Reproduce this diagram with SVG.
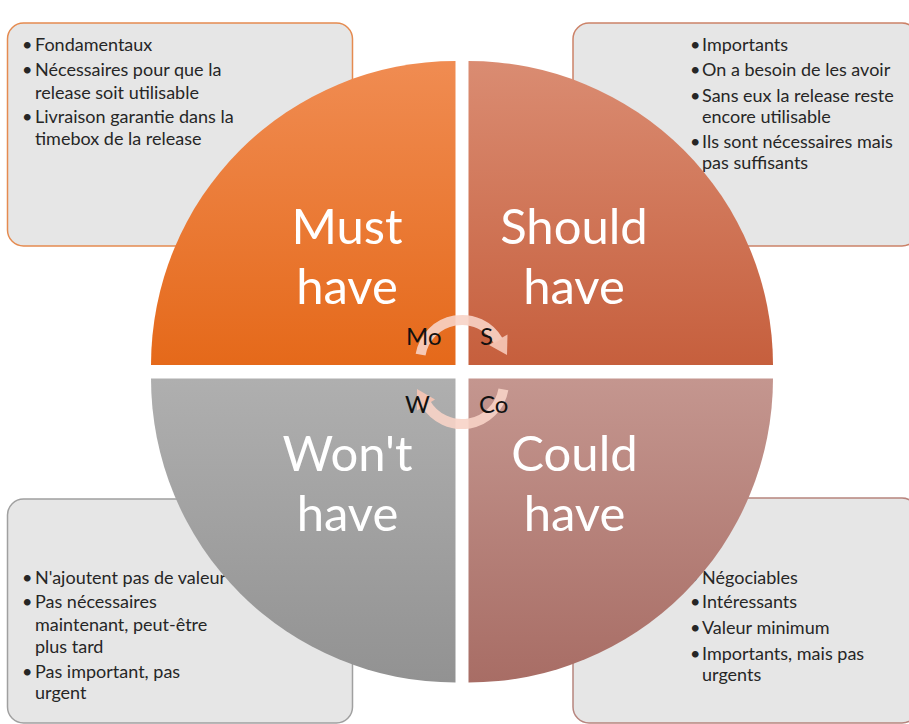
<svg xmlns="http://www.w3.org/2000/svg" width="909" height="724" viewBox="0 0 909 724">
<style>
.box{fill:#E6E6E6;stroke-width:1.5}
.bt{font-family:Lato,"Liberation Sans",sans-serif;font-size:18px;fill:#262626}
.big{font-family:Lato,"Liberation Sans",sans-serif;font-size:49px;fill:#FFFFFF;text-anchor:middle}
.lbl{font-family:Lato,"Liberation Sans",sans-serif;font-size:24px;fill:#111}
.arc{fill:none;stroke:#F7D3C6;stroke-width:10;opacity:0.9}
.ah{fill:#F4C4B3;opacity:0.95}
</style>
<defs>
<linearGradient id="gM" x1="0" y1="0" x2="0" y2="1"><stop offset="0" stop-color="#F08C52"/><stop offset="1" stop-color="#E5691A"/></linearGradient>
<linearGradient id="gS" x1="0" y1="0" x2="0" y2="1"><stop offset="0" stop-color="#DA8C72"/><stop offset="1" stop-color="#C65F3D"/></linearGradient>
<linearGradient id="gW" x1="0" y1="0" x2="0" y2="1"><stop offset="0" stop-color="#AFAFAF"/><stop offset="1" stop-color="#929292"/></linearGradient>
<linearGradient id="gC" x1="0" y1="0" x2="0" y2="1"><stop offset="0" stop-color="#C4968F"/><stop offset="1" stop-color="#A86D65"/></linearGradient>
</defs>

<g id="box-must">
<rect class="box" x="7.5" y="23" width="345" height="223" rx="16" stroke="#E58B50"/>
<text class="bt"><tspan x="22" y="51">•</tspan><tspan x="35" y="51">Fondamentaux</tspan>
<tspan x="22" y="76">•</tspan><tspan x="35" y="76">Nécessaires pour que la</tspan>
<tspan x="35" y="99">release soit utilisable</tspan>
<tspan x="22" y="123">•</tspan><tspan x="35" y="123">Livraison garantie dans la</tspan>
<tspan x="35" y="145">timebox de la release</tspan></text>
</g>
<g id="box-should">
<rect class="box" x="573" y="23" width="345" height="223" rx="16" stroke="#CC8268"/>
<text class="bt"><tspan x="690" y="51">•</tspan><tspan x="702" y="51">Importants</tspan>
<tspan x="690" y="76">•</tspan><tspan x="702" y="76">On a besoin de les avoir</tspan>
<tspan x="690" y="102">•</tspan><tspan x="702" y="102">Sans eux la release reste</tspan>
<tspan x="702" y="123">encore utilisable</tspan>
<tspan x="690" y="148">•</tspan><tspan x="702" y="148">Ils sont nécessaires mais</tspan>
<tspan x="702" y="169">pas suffisants</tspan></text>
</g>
<g id="box-wont">
<rect class="box" x="7.5" y="499" width="345" height="224" rx="16" stroke="#A0A0A0"/>
<text class="bt"><tspan x="22" y="584">•</tspan><tspan x="35" y="584">N'ajoutent pas de valeur</tspan>
<tspan x="22" y="608">•</tspan><tspan x="35" y="608">Pas nécessaires</tspan>
<tspan x="35" y="631">maintenant, peut-être</tspan>
<tspan x="35" y="653">plus tard</tspan>
<tspan x="22" y="678">•</tspan><tspan x="35" y="678">Pas important, pas</tspan>
<tspan x="35" y="699">urgent</tspan></text>
</g>
<g id="box-could">
<rect class="box" x="573" y="498" width="345" height="225" rx="16" stroke="#B7857E"/>
<text class="bt"><tspan x="688" y="584">•</tspan><tspan x="702" y="584">Négociables</tspan>
<tspan x="690" y="608">•</tspan><tspan x="702" y="608">Intéressants</tspan>
<tspan x="690" y="634">•</tspan><tspan x="702" y="634">Valeur minimum</tspan>
<tspan x="690" y="660">•</tspan><tspan x="702" y="660">Importants, mais pas</tspan>
<tspan x="702" y="681">urgents</tspan></text>
</g>

<g id="q-must">
<path d="M455.5,365 L151,365 A304.5,304 0 0 1 455.5,61 Z" fill="url(#gM)"/>
<text class="big"><tspan x="347" y="244">Must</tspan><tspan x="347" y="304">have</tspan></text>
</g>
<g id="q-should">
<path d="M468.5,365 L468.5,61 A304.5,304 0 0 1 773,365 Z" fill="url(#gS)"/>
<text class="big"><tspan x="574" y="244">Should</tspan><tspan x="574" y="304">have</tspan></text>
</g>
<g id="q-could">
<path d="M468.5,378.5 L773,378.5 A304.5,304 0 0 1 468.5,682.5 Z" fill="url(#gC)"/>
<text class="big"><tspan x="574.5" y="471">Could</tspan><tspan x="574.5" y="531">have</tspan></text>
</g>
<g id="q-wont">
<path d="M455.5,378.5 L455.5,682.5 A304.5,304 0 0 1 151,378.5 Z" fill="url(#gW)"/>
<text class="big"><tspan x="347.5" y="471">Won't</tspan><tspan x="347.5" y="531">have</tspan></text>
</g>

<g id="connectors">
<path class="arc" d="M420.6,354.7 A42,42 0 0 1 498.4,341"/>
<polygon class="ah" points="507,355 489,345 507.5,334.5"/>
<path class="arc" d="M503.4,389.3 A42,42 0 0 1 425.6,403"/>
<polygon class="ah" points="417,389 417,410.5 435,399.5"/>
</g>

<g id="labels">
<text class="lbl" x="406" y="345">Mo</text>
<text class="lbl" x="480" y="345">S</text>
<text class="lbl" x="405" y="413">W</text>
<text class="lbl" x="479" y="413">Co</text>
</g>
</svg>
